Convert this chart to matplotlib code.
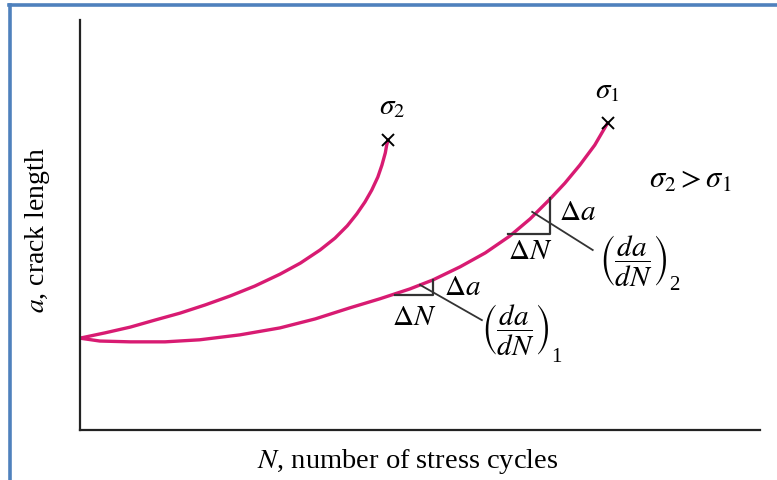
import matplotlib.pyplot as plt
from matplotlib.lines import Line2D

config = {
    "font.family": 'Liberation Serif',
    "font.size": 20,
    "mathtext.fontset": 'stix',
}
plt.rcParams.update(config)

# crack growth curves, a vs N (arbitrary units)
n_sigma1 = [0, 0.29, 0.74, 1.25, 1.76, 2.35, 2.94, 3.46, 3.97, 4.41, 4.85, 5.19,
            5.59, 5.96, 6.32, 6.62, 6.91, 7.13, 7.35, 7.57, 7.76]
a_sigma1 = [2.24, 2.17, 2.15, 2.15, 2.20, 2.32, 2.49, 2.71, 2.98, 3.20, 3.44, 3.66,
            3.98, 4.32, 4.73, 5.15, 5.63, 6.02, 6.46, 6.95, 7.49]

n_sigma2 = [0, 0.37, 0.74, 1.10, 1.47, 1.84, 2.21, 2.57, 2.94, 3.24, 3.53, 3.75,
            3.93, 4.07, 4.19, 4.29, 4.38, 4.44, 4.49, 4.51, 4.53]
a_sigma2 = [2.24, 2.37, 2.51, 2.68, 2.85, 3.05, 3.27, 3.51, 3.80, 4.07, 4.39, 4.68,
            4.98, 5.27, 5.56, 5.85, 6.17, 6.46, 6.76, 6.95, 7.07]

# slope triangles: (left N, right N, lower a, upper a)
tri_1 = [4.63, 5.19, 3.29, 3.66]
tri_2 = [6.30, 6.91, 4.78, 5.66]

pink = '#d81b72'
ink = '#333333'

fig = plt.figure(figsize=(7.77, 4.8), dpi=100)
ax = fig.add_axes([80/777, 50/480, 680/777, 410/480])

for n, a in [(n_sigma1, a_sigma1), (n_sigma2, a_sigma2)]:
    ax.plot(n, a, color=pink, lw=2.4, solid_capstyle='round', solid_joinstyle='round')
    ax.plot(n[-1], a[-1], 'x', color='black', ms=9, mew=1.4)

ax.text(n_sigma2[-1] + 0.06, a_sigma2[-1] + 0.5, r'$\sigma_2$', ha='center', va='bottom', fontsize=21)
ax.text(n_sigma1[-1], a_sigma1[-1] + 0.45, r'$\sigma_1$', ha='center', va='bottom', fontsize=21)
ax.text(8.97, 6.10, r'$\sigma_2 > \sigma_1$', ha='center', va='center', fontsize=22)

for tri in [tri_1, tri_2]:
    ax.plot([tri[0], tri[1], tri[1]], [tri[2], tri[2], tri[3]], color=ink, lw=1.6)

# leader lines to the slope labels
ax.plot([5.0, 5.91], [3.54, 2.68], color=ink, lw=1.3)
ax.plot([6.65, 7.54], [5.32, 4.39], color=ink, lw=1.3)

ax.text(5.62, 3.46, r'$\Delta a$', ha='center', va='center', fontsize=21)
ax.text(7.32, 5.29, r'$\Delta a$', ha='center', va='center', fontsize=21)
ax.text(4.91, 2.72, r'$\Delta N$', ha='center', va='center', fontsize=21)
ax.text(6.62, 4.33, r'$\Delta N$', ha='center', va='center', fontsize=21)

frac = r'$\left(\dfrac{da}{dN}\right)$'
ax.text(6.40, 2.44, frac, ha='center', va='center', fontsize=21)
ax.text(6.93, 1.78, '1', ha='left', va='center', fontsize=15)
ax.text(8.14, 4.10, frac, ha='center', va='center', fontsize=21)
ax.text(8.67, 3.53, '2', ha='left', va='center', fontsize=15)

ax.set_xlim(0, 10)
ax.set_ylim(0, 10)
ax.set_xticks([])
ax.set_yticks([])
for side in ['top', 'right']:
    ax.spines[side].set_visible(False)
for side in ['left', 'bottom']:
    ax.spines[side].set_linewidth(1.6)
    ax.spines[side].set_color('#222222')

fig.text(408/777, 18/480, r'$N$, number of stress cycles', ha='center', va='center', fontsize=20.5)
fig.text(38/777, 250/480, r'$a$, crack length', ha='center', va='center', rotation=90, fontsize=20)

# blue frame on top and left
fig.add_artist(Line2D([9/777, 1], [475/480, 475/480], color='#4f81bd', lw=2.6))
fig.add_artist(Line2D([9.5/777, 9.5/777], [0, 475/480], color='#4f81bd', lw=2.6))

plt.savefig("out.png", dpi=100)
